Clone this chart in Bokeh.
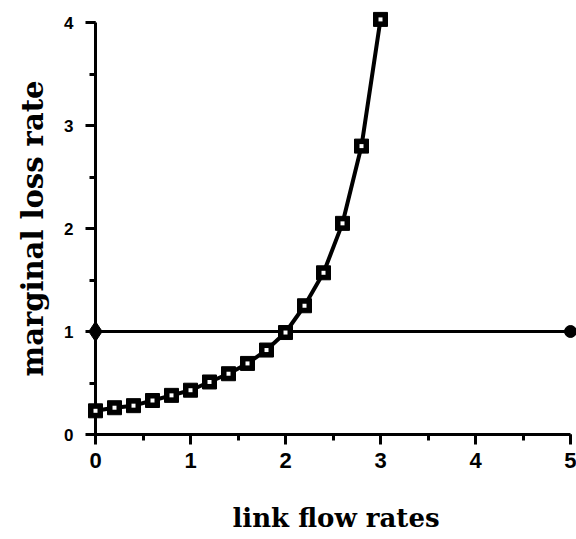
from bokeh.plotting import figure
from bokeh.models import Range1d, SingleIntervalTicker
from bokeh.embed import file_html
from bokeh.resources import INLINE

# data
flow = [0.0, 0.2, 0.4, 0.6, 0.8, 1.0, 1.2, 1.4, 1.6, 1.8, 2.0, 2.2, 2.4, 2.6, 2.8, 3.0]
loss = [0.23, 0.26, 0.28, 0.33, 0.38, 0.43, 0.51, 0.59, 0.69, 0.82, 0.99, 1.25, 1.57, 2.05, 2.80, 4.03]
ref_x = [0.0, 5.0]
ref_y = [1.0, 1.0]

p = figure(width=576, height=539, output_backend="svg", toolbar_location=None,
           x_range=Range1d(0, 5.063), y_range=Range1d(0, 4.0),
           min_border_left=95, min_border_right=0, min_border_top=22, min_border_bottom=105)
p.outline_line_color = None
p.xgrid.visible = False
p.ygrid.visible = False
p.background_fill_color = "white"
p.border_fill_color = "white"

lvl = "annotation"  # draw above the axes, not clipped to the frame

# reference line
p.line(ref_x, ref_y, line_color="black", line_width=3, level=lvl)
p.scatter(ref_x[:1], ref_y[:1], marker="diamond", size=20, fill_color="black", line_color="black", level=lvl)
p.scatter(ref_x[1:], ref_y[1:], marker="circle", size=12, fill_color="black", line_color="black", level=lvl)

# curve
p.line(flow, loss, line_color="black", line_width=4, level=lvl)
p.scatter(flow, loss, marker="square", size=14, fill_color="black", line_color="black", level=lvl)
p.scatter(flow, loss, marker="square", size=4, fill_color="white", line_color=None, level=lvl)

serif = "DejaVu Serif"

for ax in (p.xaxis[0], p.yaxis[0]):
    ax.ticker = SingleIntervalTicker(interval=1, num_minor_ticks=2)
    ax.axis_line_width = 3
    ax.axis_line_color = "black"
    ax.major_tick_line_width = 3
    ax.minor_tick_line_width = 3
    ax.major_tick_in = 0
    ax.minor_tick_in = 0
    ax.major_tick_out = 10
    ax.minor_tick_out = 6
    ax.major_label_text_font = "Liberation Sans"
    ax.major_label_text_font_style = "bold"
    ax.major_label_text_color = "black"
    ax.axis_label_text_font = serif
    ax.axis_label_text_font_style = "bold"
    ax.axis_label_text_color = "black"

xa = p.xaxis[0]
xa.bounds = (0, 5)
xa.major_label_text_font_size = "22px"
xa.major_label_standoff = 8
xa.axis_label = "link flow rates"
xa.axis_label_text_font_size = "26px"
xa.axis_label_standoff = 32

ya = p.yaxis[0]
ya.bounds = (0, 4)
ya.major_label_text_font_size = "17px"
ya.major_label_standoff = 12
ya.axis_label = "marginal loss rate"
ya.axis_label_text_font_size = "29px"
ya.axis_label_standoff = 11

open("out.html", "w").write(file_html(p, INLINE))
